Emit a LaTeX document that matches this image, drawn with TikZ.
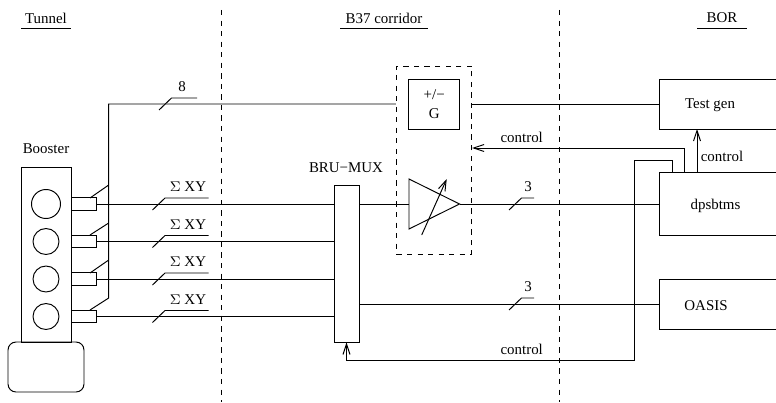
\documentclass[tikz,border=0pt]{standalone}
\usepackage{fontspec}
\setmainfont{Liberation Serif}
\usetikzlibrary{arrows.meta}

\tikzset{
    every node/.style={font=\fontsize{8.5pt}{10pt}\selectfont},
    wire/.style={line width=0.55pt},
    box/.style={draw,wire,rectangle,inner sep=0pt},
    ring/.style={draw,wire,circle,inner sep=0pt},
    pickup/.style={box,minimum width=0.5cm,minimum height=0.25cm},
    section/.style={align=center},
    ctrl/.style={wire,-{Straight Barb[length=6pt,width=4pt]}}
}

% bus width mark: slanted tick with a label above it
\newcommand{\buswidth}[4]{
    \draw[wire] (#2-18,#3+6) -- (#2-5.5,#3-6) -- (#2+#4,#3-6);
}

\begin{document}
\begin{tikzpicture}[x=0.02cm,y=-0.02cm]
    \clip (0,0) rectangle (776,402);

    % Sections
    \draw[wire,dashed] (221,10) -- (221,402);
    \draw[wire,dashed] (559,10) -- (559,402);
    \node[section] (tunnel) at (46,18) {Tunnel};
    \node[section] (corridor) at (384,18) {B37 corridor};
    \node[section] (bor) at (722,18) {BOR};
    \draw[wire] (21,28.5) -- (71,28.5);
    \draw[wire] (340,28.5) -- (428,28.5);
    \draw[wire] (697,28.5) -- (747,28.5);

    % Booster
    \node (boosterlabel) at (46,149) {Booster};
    \node[box,minimum width=1cm,minimum height=3.5cm] (booster) at (46,254.5) {};
    \node[box,rounded corners=0.16cm,minimum width=1.52cm,minimum height=1cm] (tank) at (46,367) {};
    \node[ring,minimum size=0.58cm] (ring1) at (46,204) {};
    \node[ring,minimum size=0.52cm] (ring2) at (46,241.5) {};
    \node[ring,minimum size=0.52cm] (ring3) at (46,279) {};
    \node[ring,minimum size=0.52cm] (ring4) at (46,316.5) {};
    \node[pickup] (pick1) at (83.5,204) {};
    \node[pickup] (pick2) at (83.5,241.5) {};
    \node[pickup] (pick3) at (83.5,279) {};
    \node[pickup] (pick4) at (83.5,316.5) {};

    % Blocks
    \node[box,minimum width=0.5cm,minimum height=3.14cm] (mux) at (346.5,263.5) {};
    \node (muxlabel) at (346,168) {BRU−MUX};
    \node[box,dashed,minimum width=1.51cm,minimum height=3.76cm] (gainbox) at (434.2,160) {};
    \node[box,minimum width=1.01cm,minimum height=1cm,align=center] (gain) at (434.2,104) {+/−\\[1pt]G};
    \coordinate (ampin) at (409,204);
    \coordinate (ampout) at (459.5,204);
    \draw[wire] (ampin) -- (409,179) -- (ampout) -- (409,229) -- (ampin);
    \draw[ctrl] (421.7,235) -- (446.7,179);

    \node[box,minimum width=2.6cm,minimum height=1cm] (testgen) at (724.5,104) {};
    \node[box,minimum width=2.6cm,minimum height=1.25cm] (dps) at (724.5,204) {};
    \node[box,minimum width=2.6cm,minimum height=1cm] (oasis) at (724.5,304) {};
    \node (testgenlabel) at (710,105) {Test gen};
    \node (dpslabel) at (715.5,206) {dpsbtms};
    \node (oasislabel) at (706,306) {OASIS};

    % Signals
    \foreach \i in {1,...,4}{
        \draw[wire] (pick\i.east) -- (pick\i.east -| mux.west);
        \node (sum\i) at (188,149.5+37.5*\i) {$\Sigma$ XY};
    }
    \buswidth{1}{170.5}{204}{38}
    \buswidth{2}{170.5}{241.5}{38}
    \buswidth{3}{170.5}{279}{38}
    \buswidth{4}{170.5}{316.5}{38}

    \draw[wire] (mux.east |- ampin) -- (ampin);
    \draw[wire] (ampout) -- (dps.west);
    \draw[wire] (mux.east |- oasis.west) -- (oasis.west);
    \draw[wire] (gainbox.west |- gain.west) -- (108.7,104) -- (108.7,298) -- (90,310);
    \draw[wire] (108.7,185) -- (90,198);
    \draw[wire] (108.7,223) -- (90,235);
    \draw[wire] (108.7,260) -- (90,273);
    \draw[wire] (gainbox.east |- testgen.west) -- (testgen.west);

    \buswidth{5}{177}{104}{20}
    \buswidth{6}{527}{204}{7}
    \buswidth{7}{527}{304}{7}
    \node (width8) at (182,87) {8};
    \node (width3a) at (528,187) {3};
    \node (width3b) at (528,287) {3};

    % Control lines
    \draw[ctrl] (697,172.7) -- (697,129);
    \draw[ctrl] (684.7,172.7) -- (684.7,148) -- (472,148);
    \draw[ctrl] (672,172.7) -- (672,160) -- (634,160) -- (634,360) -- (346.5,360) -- (mux.south);
    \node (ctrl1) at (722,156) {control};
    \node (ctrl2) at (521.7,137) {control};
    \node (ctrl3) at (521.7,349) {control};
\end{tikzpicture}
\end{document}
